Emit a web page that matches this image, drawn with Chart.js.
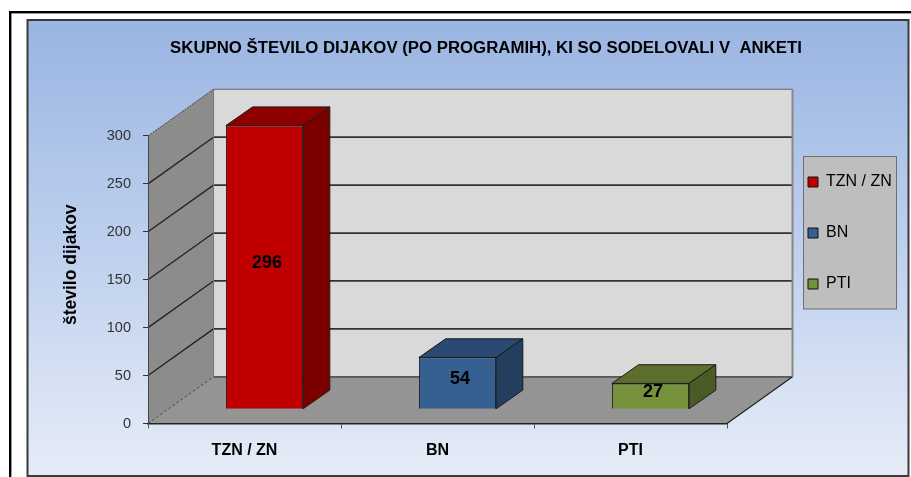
<!DOCTYPE html>
<html>
<head>
<meta charset="utf-8">
<style>html,body{margin:0;padding:0;background:#fff}canvas{display:block}</style>
<script src="https://cdn.jsdelivr.net/npm/chart.js@4/dist/chart.umd.min.js"></script>
</head>
<body>
<canvas id="c" width="911" height="477"></canvas>
<script>
const categories = ["TZN / ZN", "BN", "PTI"];
const seriesValues = [296, 54, 27];
const yTicks = [0, 50, 100, 150, 200, 250, 300];
const chartTitle = "SKUPNO ŠTEVILO DIJAKOV (PO PROGRAMIH), KI SO SODELOVALI V  ANKETI";
const yTitle = "število dijakov";
const frontColors = ["#C00000", "#376092", "#76923C"];
const topColors = ["#8E0000", "#2B4A73", "#5C6F2D"];
const sideColors = ["#7A0000", "#243E60", "#4B5B25"];

const FONT = "'Liberation Sans', Arial, sans-serif";
const wallD = {x: 65.5, y: -46.7};
const barD = {x: 26.7, y: -18.7};
const barShift = {x: 20, y: -14.2};

function poly(ctx, pts, fill, stroke, lw, dash) {
  ctx.save();
  ctx.beginPath();
  pts.forEach((p, i) => i ? ctx.lineTo(p[0], p[1]) : ctx.moveTo(p[0], p[1]));
  ctx.closePath();
  if (fill) { ctx.fillStyle = fill; ctx.fill(); }
  if (stroke) { ctx.strokeStyle = stroke; ctx.lineWidth = lw || 1; if (dash) ctx.setLineDash(dash); ctx.stroke(); }
  ctx.restore();
}
function line(ctx, x1, y1, x2, y2, color, lw, dash) {
  ctx.save();
  ctx.beginPath(); ctx.moveTo(x1, y1); ctx.lineTo(x2, y2);
  ctx.strokeStyle = color; ctx.lineWidth = lw;
  if (dash) ctx.setLineDash(dash);
  ctx.stroke(); ctx.restore();
}

const scene = {
  id: "scene",
  beforeUpdate(chart) {
    const lg = chart.legend;
    if (lg && !lg._wrapped) {
      const f = lg.fit;
      lg.fit = function () { f.call(this); this.width = 1; };
      lg._wrapped = true;
    }
  },
  beforeDraw(chart) {
    const ctx = chart.ctx, W = chart.width, H = chart.height;
    const yS = chart.scales.y, xS = chart.scales.x;
    ctx.save();
    ctx.fillStyle = "#fff"; ctx.fillRect(0, 0, W, H);
    // outer frame
    ctx.fillStyle = "#000";
    ctx.fillRect(9, 11, W - 9, 2.4);
    ctx.fillRect(9, 11, 2.4, H - 11);
    // panel
    const g = ctx.createLinearGradient(0, 20, 0, 476);
    g.addColorStop(0, "#9AB5E2");
    g.addColorStop(0.5, "#BED0EE");
    g.addColorStop(1, "#E6ECF7");
    ctx.fillStyle = g;
    ctx.fillRect(27.5, 20, 881, 456);
    ctx.strokeStyle = "#3a3a3a"; ctx.lineWidth = 2;
    ctx.strokeRect(27.5, 20, 881, 456);
    ctx.restore();

    const L = xS.left, R = xS.right, B = yS.getPixelForValue(0), T = yS.getPixelForValue(300);
    const dx = wallD.x, dy = wallD.y;
    // back wall
    poly(ctx, [[L + dx, T + dy], [R + dx, T + dy], [R + dx, B + dy], [L + dx, B + dy]], "#D9D9D9");
    // left wall
    poly(ctx, [[L, T], [L + dx, T + dy], [L + dx, B + dy], [L, B]], "#8C8C8C");
    // floor
    poly(ctx, [[L, B], [R, B], [R + dx, B + dy], [L + dx, B + dy]], "#949494");
    // grid
    yTicks.forEach(v => {
      const y = yS.getPixelForValue(v);
      if (v > 0 && v < 300) {
        line(ctx, L, y, L + dx, y + dy, "#222", 1.3);
        line(ctx, L + dx, y + dy, R + dx, y + dy, "#333", 1.8);
      }
    });
    line(ctx, L + dx, T + dy, R + dx, T + dy, "#666", 1.2);
    line(ctx, L, T, L + dx, T + dy, "#444", 1, [2, 1]);
    line(ctx, L, B, L + dx, B + dy, "#444", 1, [3, 2]);
    line(ctx, L + dx, B + dy, R + dx, B + dy, "#333", 1.2);
    line(ctx, R, B, R + dx, B + dy, "#222", 1.2);
    line(ctx, R + dx, T + dy, R + dx, B + dy, "#888", 2);
    line(ctx, L + dx, T + dy, L + dx, B + dy, "#777", 1);

    // legend panel + legend placement
    ctx.save();
    ctx.fillStyle = "#BEBEBE"; ctx.strokeStyle = "#6f6f6f"; ctx.lineWidth = 1;
    ctx.fillRect(803.5, 156.5, 93, 152.5);
    ctx.strokeRect(803.5, 156.5, 93, 152.5);
    ctx.restore();
    const lg = chart.legend;
    lg.left = 773; lg.right = 900; lg.top = 139; lg.bottom = 477; lg.width = 127; lg.height = 338;

    // title centre
    const tb = chart.titleBlock;
    tb.left = 61; tb.right = 911; tb.width = 850;
  },
  beforeDatasetsDraw(chart) {
    const ctx = chart.ctx;
    ctx.save();
    ctx.translate(barShift.x, barShift.y);
    // 3D faces from the library's own bar elements
    chart.getDatasetMeta(0).data.forEach((el, i) => {
      const l = el.x - el.width / 2, r = el.x + el.width / 2, t = el.y, b = el.base;
      const d = barD;
      poly(ctx, [[l, t], [l + d.x, t + d.y], [r + d.x, t + d.y], [r, t]], topColors[i], "#1a1a1a", 1);
      poly(ctx, [[r, t], [r + d.x, t + d.y], [r + d.x, b + d.y], [r, b]], sideColors[i], "#1a1a1a", 1);
    });
  },
  afterDatasetsDraw(chart) {
    const ctx = chart.ctx;
    ctx.save();
    ctx.font = "bold 18px " + FONT;
    ctx.fillStyle = "#000";
    ctx.textAlign = "center";
    ctx.textBaseline = "middle";
    chart.getDatasetMeta(0).data.forEach((el, i) => {
      ctx.fillText(String(seriesValues[i]), el.x + 2.5, (el.y + el.base) / 2 - 4.5);
    });
    ctx.restore();
    ctx.restore();
  }
};

new Chart(document.getElementById("c"), {
  type: "bar",
  data: {
    labels: categories,
    datasets: [{
      data: seriesValues,
      backgroundColor: frontColors,
      borderColor: "#1a1a1a",
      borderWidth: 1,
      categoryPercentage: 1,
      barPercentage: 0.4
    }]
  },
  options: {
    responsive: false,
    animation: false,
    events: [],
    layout: {padding: {left: 55, right: 183, top: 0, bottom: 0}},
    plugins: {
      tooltip: {enabled: false},
      title: {
        display: true,
        text: chartTitle,
        color: "#000",
        font: {family: FONT, size: 16.8, weight: "bold", lineHeight: 1.2},
        padding: {top: 38.5, bottom: 77.3}
      },
      legend: {
        display: true,
        position: "right",
        align: "start",
        labels: {
          boxWidth: 10,
          boxHeight: 10,
          padding: 35,
          color: "#222",
          font: {family: FONT, size: 16},
          generateLabels() {
            return categories.map((c, i) => ({
              text: c, fillStyle: frontColors[i], strokeStyle: "#111", lineWidth: 1, index: i, hidden: false
            }));
          }
        }
      }
    },
    scales: {
      x: {
        afterFit(s) { s.height = 53.5; },
        grid: {drawOnChartArea: false, drawTicks: true, tickLength: 5, color: "#555"},
        border: {display: true, color: "#222", width: 1.5},
        ticks: {color: "#000", padding: 12, maxRotation: 0, font: {family: FONT, size: 16, weight: "bold"}}
      },
      y: {
        min: 0,
        max: 300,
        afterFit(s) {
          s.width = 93;
          if (!s._titleShifted) {
            const draw = s.drawTitle;
            s.drawTitle = function () {
              this.ctx.save();
              this.ctx.translate(0, -15);
              draw.call(this);
              this.ctx.restore();
            };
            s._titleShifted = true;
          }
        },
        afterBuildTicks(s) { s.ticks = yTicks.map(v => ({value: v})); },
        grid: {drawOnChartArea: false, drawTicks: true, tickLength: 5, color: "#333"},
        border: {display: true, color: "#444", width: 1},
        ticks: {color: "#333", padding: 12, font: {family: FONT, size: 14.5}},
        title: {
          display: true,
          text: yTitle,
          color: "#000",
          padding: {top: 5.5, bottom: 0},
          font: {family: FONT, size: 17.5, weight: "bold"}
        }
      }
    }
  },
  plugins: [scene]
});
</script>
</body>
</html>
